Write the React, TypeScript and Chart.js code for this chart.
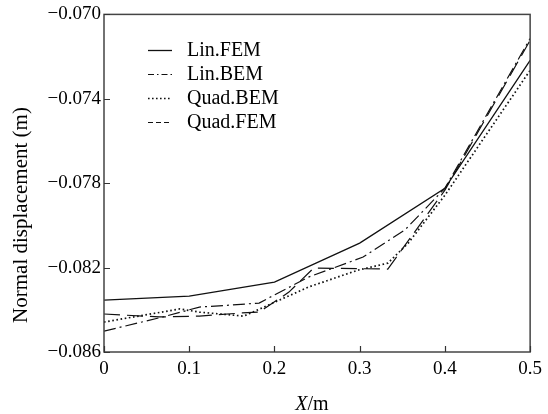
import React, { useEffect, useRef } from "react";
import { Chart, registerables } from "chart.js";

Chart.register(...registerables);

const seriesNames = ["Lin.FEM", "Lin.BEM", "Quad.BEM", "Quad.FEM"];

const linFemX = [0, 0.1, 0.2, 0.3, 0.4, 0.5];
const linFemY = [-0.08354, -0.08335, -0.08269, -0.08084, -0.07824, -0.07218];

const linBemX = [0, 0.069, 0.112, 0.147, 0.182, 0.24, 0.304, 0.353, 0.4, 0.5];
const linBemY = [-0.08501, -0.08434, -0.08387, -0.08378, -0.08368, -0.08245, -0.0815, -0.08022, -0.07824, -0.07114];

const quadBemX = [0, 0.089, 0.112, 0.164, 0.24, 0.298, 0.333, 0.357, 0.4, 0.5];
const quadBemY = [-0.08458, -0.08396, -0.08411, -0.0843, -0.08292, -0.08212, -0.08179, -0.08084, -0.07857, -0.07265];

const quadFemX = [0, 0.065, 0.112, 0.162, 0.182, 0.217, 0.246, 0.333, 0.4, 0.5];
const quadFemY = [-0.0842, -0.08434, -0.0843, -0.08415, -0.08411, -0.08316, -0.08202, -0.08207, -0.07833, -0.07123];

const xTicks = [0, 0.1, 0.2, 0.3, 0.4, 0.5];
const yTicks = [-0.086, -0.082, -0.078, -0.074, -0.07];

const xTitleItalic = "X";
const xTitleRest = "/m";
const yTitle = "Normal displacement (m)";

const FONT = "'Liberation Serif', 'DejaVu Serif', 'Times New Roman', serif";
const INK = "#111";

const plotDashes = [[], [12, 4, 2, 4], [1.6, 2.6], [16, 7]];
const legendDashes = [[], [6, 3, 1.5, 3], [1.6, 2.4], [5, 3]];
const lineWidths = [1.3, 1.2, 1.7, 1.2];

const toPoints = (xs: number[], ys: number[]) => xs.map((x, i) => ({ x, y: ys[i] }));

const decorPlugin = {
  id: "decor",
  afterDraw(chart: any) {
    const { ctx, chartArea, scales } = chart;
    const { left, right, top, bottom } = chartArea;
    ctx.save();
    // frame
    ctx.strokeStyle = "#444";
    ctx.lineWidth = 1.5;
    ctx.setLineDash([]);
    ctx.strokeRect(left, top, right - left, bottom - top);
    // inward ticks
    ctx.strokeStyle = "#333";
    ctx.lineWidth = 1.2;
    ctx.beginPath();
    xTicks.forEach((v) => {
      const px = Math.round(scales.x.getPixelForValue(v)) + 0.5;
      ctx.moveTo(px, bottom);
      ctx.lineTo(px, bottom - 6);
    });
    yTicks.forEach((v) => {
      const py = Math.round(scales.y.getPixelForValue(v)) + 0.5;
      ctx.moveTo(left, py);
      ctx.lineTo(left + 6, py);
    });
    ctx.stroke();

    // legend
    const rows = [50, 74, 98, 122];
    chart.data.datasets.forEach((ds: any, i: number) => {
      const y = rows[i] + 0.5;
      ctx.strokeStyle = INK;
      ctx.lineWidth = lineWidths[i];
      ctx.setLineDash(legendDashes[i]);
      ctx.beginPath();
      ctx.moveTo(148, y);
      ctx.lineTo(172, y);
      ctx.stroke();
      ctx.setLineDash([]);
      ctx.fillStyle = "#000";
      ctx.font = `20px ${FONT}`;
      ctx.textAlign = "left";
      ctx.textBaseline = "middle";
      ctx.fillText(ds.label, 187, rows[i] + 1);
    });

    // y title
    ctx.save();
    ctx.translate(21, 215);
    ctx.rotate(-Math.PI / 2);
    ctx.fillStyle = "#000";
    ctx.font = `21px ${FONT}`;
    ctx.textAlign = "center";
    ctx.textBaseline = "middle";
    ctx.fillText(yTitle, 0, 0);
    ctx.restore();

    // x title
    ctx.fillStyle = "#000";
    ctx.textBaseline = "alphabetic";
    ctx.textAlign = "left";
    ctx.font = `italic 20px ${FONT}`;
    const w1 = ctx.measureText(xTitleItalic).width;
    ctx.font = `20px ${FONT}`;
    const w2 = ctx.measureText(xTitleRest).width;
    const x0 = 312 - (w1 + w2) / 2;
    ctx.font = `italic 20px ${FONT}`;
    ctx.fillText(xTitleItalic, x0, 410);
    ctx.font = `20px ${FONT}`;
    ctx.fillText(xTitleRest, x0 + w1, 410);
    ctx.restore();
  },
};

export default function App() {
  const canvasRef = useRef<HTMLCanvasElement | null>(null);

  useEffect(() => {
    document.body.style.margin = "0";
    const canvas = canvasRef.current;
    if (!canvas) return;
    const series = [
      toPoints(linFemX, linFemY),
      toPoints(linBemX, linBemY),
      toPoints(quadBemX, quadBemY),
      toPoints(quadFemX, quadFemY),
    ];
    const chart = new Chart(canvas, {
      type: "line",
      data: {
        datasets: series.map((pts, i) => ({
          label: seriesNames[i],
          data: pts,
          borderColor: INK,
          backgroundColor: INK,
          borderWidth: lineWidths[i],
          borderDash: plotDashes[i],
          pointRadius: 0,
          tension: 0,
          fill: false,
        })),
      },
      options: {
        animation: false,
        responsive: false,
        maintainAspectRatio: false,
        layout: { padding: { top: 14, right: 15, left: 0, bottom: 0 } },
        plugins: { legend: { display: false }, tooltip: { enabled: false } },
        scales: {
          x: {
            type: "linear",
            min: 0,
            max: 0.5,
            afterBuildTicks: (s: any) => {
              s.ticks = xTicks.map((v) => ({ value: v }));
            },
            afterFit: (s: any) => {
              s.height = 62;
            },
            ticks: {
              color: "#000",
              font: { family: FONT, size: 19 },
              padding: 6,
              maxRotation: 0,
              callback: (v: any) => (Number(v) === 0 ? "0" : Number(v).toFixed(1)),
            },
            grid: { display: false, drawTicks: false },
            border: { display: false },
          },
          y: {
            type: "linear",
            min: -0.086,
            max: -0.07,
            afterBuildTicks: (s: any) => {
              s.ticks = yTicks.map((v) => ({ value: v }));
            },
            afterFit: (s: any) => {
              s.width = 104;
            },
            ticks: {
              color: "#000",
              font: { family: FONT, size: 19 },
              padding: 3,
              callback: (v: any) => "\u2212" + Math.abs(Number(v)).toFixed(3),
            },
            grid: { display: false, drawTicks: false },
            border: { display: false },
          },
        },
      },
      plugins: [decorPlugin],
    });
    return () => chart.destroy();
  }, []);

  return (
    <div style={{ width: 548, height: 414, background: "#fff" }}>
      <canvas ref={canvasRef} width={548} height={414} />
    </div>
  );
}
